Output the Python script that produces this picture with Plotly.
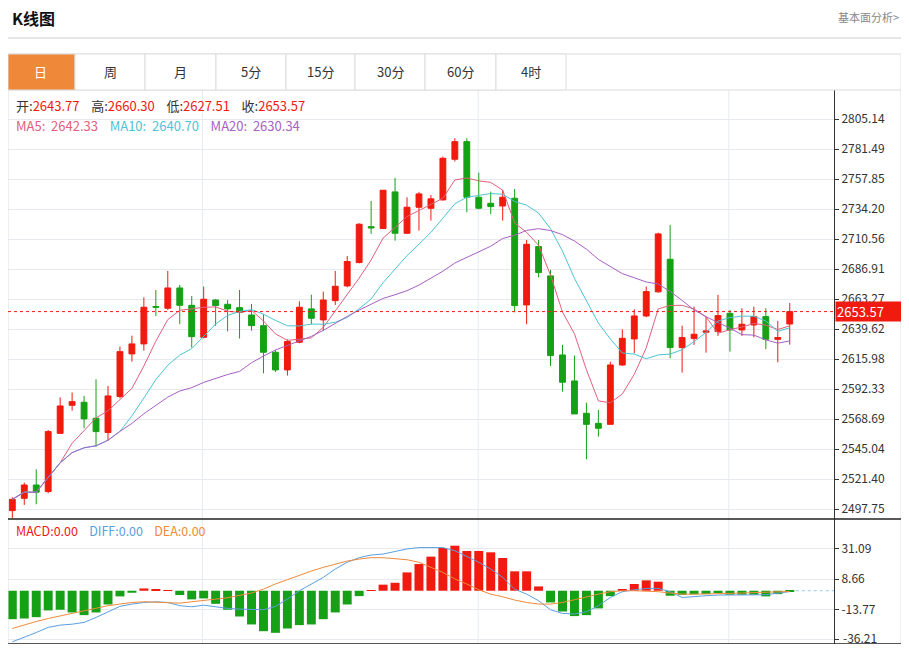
import pandas as pd
import plotly.graph_objects as go

# daily candles
opens = [2496.7, 2506.4, 2516.9, 2511.7, 2557.6, 2579.7, 2582.1, 2569.5, 2558.2, 2586.6,
         2620.2, 2628.1, 2657.5, 2656.2, 2672.2, 2658.5, 2633.3, 2662.7, 2659.3, 2656.7,
         2650.9, 2642.5, 2621.5, 2607.6, 2629.4, 2655.7, 2647.0, 2662.2, 2673.8, 2692.2,
         2720.5, 2719.0, 2747.9, 2715.3, 2735.8, 2735.0, 2741.6, 2773.6, 2787.5, 2743.7,
         2738.9, 2736.8, 2742.9, 2658.8, 2704.8, 2681.7, 2619.4, 2598.9, 2573.4, 2565.5,
         2564.7, 2611.5, 2632.0, 2650.1, 2669.1, 2694.8, 2625.2, 2632.3, 2637.3, 2637.8,
         2652.2, 2639.1, 2643.0, 2649.6, 2631.7, 2643.77]
closes = [2505.6, 2516.9, 2511.2, 2559.0, 2579.2, 2582.6, 2569.0, 2559.0, 2587.1, 2622.0,
          2628.1, 2657.0, 2657.0, 2672.2, 2658.5, 2633.8, 2663.3, 2658.3, 2655.7, 2652.8,
          2642.5, 2621.5, 2607.6, 2629.9, 2657.0, 2648.3, 2662.7, 2673.5, 2693.0, 2722.4,
          2719.5, 2749.2, 2715.3, 2735.8, 2746.3, 2742.4, 2774.4, 2787.5, 2743.7, 2735.0,
          2736.3, 2743.7, 2658.3, 2706.6, 2684.3, 2618.9, 2597.9, 2572.9, 2564.7, 2561.6,
          2611.5, 2632.5, 2650.1, 2669.3, 2714.8, 2625.2, 2633.1, 2635.7, 2638.3, 2650.4,
          2639.1, 2643.6, 2649.6, 2631.7, 2633.1, 2653.57]
highs = [2507.2, 2518.8, 2529.3, 2560.3, 2586.0, 2589.7, 2587.1, 2600.2, 2595.0, 2626.0,
         2634.6, 2664.8, 2670.6, 2685.6, 2674.6, 2665.9, 2673.3, 2663.3, 2662.7, 2670.6,
         2659.6, 2651.4, 2623.3, 2631.7, 2661.7, 2666.9, 2669.3, 2685.6, 2697.4, 2723.2,
         2740.8, 2749.4, 2758.9, 2743.7, 2747.9, 2745.5, 2775.7, 2790.2, 2790.2, 2763.1,
         2748.1, 2749.4, 2750.2, 2710.0, 2710.0, 2686.4, 2627.3, 2618.9, 2581.8, 2576.0,
         2614.1, 2639.6, 2655.4, 2673.3, 2715.8, 2721.9, 2642.5, 2657.5, 2649.6, 2666.7,
         2654.9, 2656.2, 2657.5, 2656.2, 2646.2, 2660.30]
lows = [2490.7, 2501.2, 2501.7, 2510.4, 2557.1, 2575.5, 2561.6, 2547.1, 2551.9, 2585.2,
        2614.1, 2622.8, 2650.1, 2654.9, 2643.6, 2625.2, 2632.5, 2642.3, 2638.0, 2632.3,
        2638.6, 2604.9, 2606.0, 2603.1, 2628.6, 2643.6, 2638.6, 2658.8, 2672.7, 2691.6,
        2714.8, 2719.0, 2709.5, 2714.8, 2717.4, 2725.3, 2741.0, 2771.8, 2731.8, 2734.2,
        2730.5, 2725.3, 2653.0, 2643.6, 2680.6, 2610.7, 2590.5, 2572.9, 2537.2, 2555.0,
        2564.7, 2610.7, 2620.7, 2649.1, 2668.5, 2616.8, 2605.5, 2627.3, 2621.2, 2634.4,
        2622.0, 2634.4, 2633.3, 2623.9, 2613.6, 2627.51]

# MACD panel
macd_hist = [-21.1, -20.6, -19.6, -14.6, -14.1, -16.1, -18.1, -16.1, -10.2, -4.2,
             -1.5, 1.7, 1.2, 0.5, -3.2, -6.4, -5.7, -9.7, -14.1, -19.1,
             -25.0, -30.0, -31.2, -28.0, -25.5, -25.0, -21.1, -16.1, -10.2, -4.0,
             0.1, 4.5, 5.9, 13.6, 19.8, 25.3, 31.7, 33.4, 29.5, 29.5,
             28.5, 24.3, 14.4, 14.4, 3.2, -8.7, -15.4, -18.8, -18.1, -13.1,
             -4.0, 1.2, 5.0, 7.7, 6.7, -3.7, -3.0, -2.7, -2.5, -1.7,
             -3.0, -3.0, -3.0, -4.2, -2.5, -0.3]
diff = [-37.9, -34.7, -31.0, -27.2, -25.5, -24.8, -23.5, -19.8, -15.6, -11.6,
        -9.9, -8.7, -8.2, -8.7, -11.1, -11.9, -10.7, -11.9, -13.1, -13.6,
        -13.6, -14.1, -11.6, -6.2, 0.0, 5.0, 9.9, 16.1, 21.1, 24.5,
        26.5, 27.2, 29.2, 31.0, 32.0, 32.2, 32.0, 29.7, 25.5, 21.1,
        16.1, 9.9, 1.2, -2.5, -7.4, -14.1, -16.8, -17.3, -15.6, -11.1,
        -5.0, -0.7, 0.7, 1.7, 1.7, -0.7, -5.0, -4.2, -3.7, -3.2,
        -3.2, -3.0, -3.0, -3.0, -1.7, -0.7]
dea = [-28.0, -25.3, -22.8, -20.6, -18.6, -17.1, -15.1, -13.1, -11.1, -9.9,
       -8.7, -8.2, -8.4, -8.9, -9.2, -8.2, -7.4, -6.2, -5.2, -3.7,
       -1.7, 1.2, 5.0, 8.2, 11.6, 14.6, 17.3, 19.8, 22.0, 23.5,
       24.5, 24.5, 24.0, 23.0, 21.1, 17.3, 13.6, 8.7, 5.0, 0.7,
       -2.5, -4.5, -6.9, -8.7, -9.9, -9.9, -8.7, -6.7, -4.5, -2.5,
       -0.7, 0.0, 0.0, -0.2, -0.7, -1.7, -2.5, -2.5, -2.5, -2.2,
       -2.0, -1.7, -1.5, -1.2, -0.7, -0.5]

# values shown in the legend line
ma_labels = {"MA5": "2642.33", "MA10": "2640.70", "MA20": "2630.34"}

price_ticks = [2497.75, 2521.40, 2545.04, 2568.69, 2592.33, 2615.98, 2639.62,
               2663.27, 2686.91, 2710.56, 2734.20, 2757.85, 2781.49, 2805.14]
macd_ticks = [-36.21, -13.77, 8.66, 31.09]
tabs = ["日", "周", "月", "5分", "15分", "30分", "60分", "4时"]

RED = "#f01a0e"
GREEN = "#16a016"
FONT = "Noto Sans CJK SC"
C_MA = {"MA5": "#e0607e", "MA10": "#4cc4d4", "MA20": "#a860c4"}

x = list(range(len(closes)))
s = pd.Series(closes)
mas = {"MA5": s.rolling(5, min_periods=1).mean(),
       "MA10": s.rolling(10, min_periods=1).mean(),
       "MA20": s.rolling(20, min_periods=1).mean()}

# page body has an 8px margin, so the figure is 16px smaller
OFF = 8
W, H = 909 - 2 * OFF, 652 - 2 * OFF


def py(p):
    return min(1, max(0, 1 - (p - OFF) / H))


def px(p):
    return min(1, max(0, (p - OFF) / W))


fig = go.Figure()
fig.add_trace(go.Candlestick(
    x=x, open=opens, high=highs, low=lows, close=closes,
    increasing=dict(line=dict(color=RED, width=1), fillcolor=RED),
    decreasing=dict(line=dict(color=GREEN, width=1), fillcolor=GREEN),
    whiskerwidth=0, hoverinfo="skip"))
for name, ma in mas.items():
    fig.add_trace(go.Scatter(x=x, y=ma, mode="lines",
                             line=dict(color=C_MA[name], width=1), hoverinfo="skip"))

fig.add_trace(go.Bar(x=x, y=macd_hist, yaxis="y2", xaxis="x2",
                     marker=dict(color=[RED if v > 0 else GREEN for v in macd_hist],
                                 line=dict(width=0)),
                     width=0.75, hoverinfo="skip"))
fig.add_trace(go.Scatter(x=x, y=diff, xaxis="x2", yaxis="y2", mode="lines",
                         line=dict(color="#5aa0e0", width=1), hoverinfo="skip"))
fig.add_trace(go.Scatter(x=x, y=dea, xaxis="x2", yaxis="y2", mode="lines",
                         line=dict(color="#f08a3a", width=1), hoverinfo="skip"))

xr = [-0.36, 68.7]
axfont = dict(family=FONT, size=12, color="#333")
fig.update_layout(
    width=W, height=H, margin=dict(l=0, r=0, t=0, b=0),
    paper_bgcolor="white", plot_bgcolor="white", showlegend=False,
    xaxis=dict(domain=[px(5), px(834)], range=xr, showticklabels=False,
               showgrid=False, zeroline=False, rangeslider=dict(visible=False),
               fixedrange=True),
    yaxis=dict(domain=[py(519), py(90)], range=[2490.1, 2828.2], side="right",
               tickvals=price_ticks, ticktext=[f"{v:.2f}" for v in price_ticks],
               ticks="outside", ticklen=4, tickcolor="#333", showline=True,
               linecolor="#333", gridcolor="#e6eaee", zeroline=False,
               tickfont=axfont),
    xaxis2=dict(domain=[px(5), px(834)], range=xr, anchor="y2",
                showticklabels=False, showgrid=False, zeroline=False),
    # lowest tick label would be clipped by the page edge, so it is an annotation
    yaxis2=dict(domain=[py(649), py(519)], range=[-39.5, 53.2], side="right",
                anchor="x2", tickvals=macd_ticks,
                ticktext=[""] + [f"{v:.2f}" for v in macd_ticks[1:]],
                ticks="outside", ticklen=4, tickcolor="#333", showline=True,
                linecolor="#333", gridcolor="#e6eaee", zeroline=False,
                tickfont=axfont),
)
fig.add_annotation(xref="paper", yref="y2", x=px(841), y=macd_ticks[0],
                   xanchor="left", yanchor="middle", yshift=2,
                   text=f"{macd_ticks[0]:.2f}", showarrow=False, font=axfont)

shapes = []
# vertical grid lines (month splits)
for v in [15.9, 38.95, 59.9]:
    for xa, ya in [("x", "y domain"), ("x2", "y2 domain")]:
        shapes.append(dict(type="line", xref=xa, yref=ya, x0=v, x1=v, y0=0, y1=1,
                           line=dict(color="#e6eaee", width=1), layer="below"))
# header rule and frames
shapes.append(dict(type="line", xref="paper", yref="paper", x0=px(5), x1=px(905),
                   y0=py(38), y1=py(38), line=dict(color="#cccccc", width=1)))
shapes.append(dict(type="rect", xref="paper", yref="paper", x0=px(5), x1=px(905),
                   y0=py(649), y1=py(54), line=dict(color="#dddddd", width=1)))
shapes.append(dict(type="line", xref="paper", yref="paper", x0=px(5), x1=px(905),
                   y0=py(90), y1=py(90), line=dict(color="#dddddd", width=1)))
for yy in [519, 649]:
    shapes.append(dict(type="line", xref="paper", yref="paper", x0=px(5), x1=px(905),
                       y0=py(yy), y1=py(yy), line=dict(color="#222", width=1.5)))
# tabs
tab_edges = [5, 75, 145, 216, 286, 355, 425, 496, 566]
for i, t in enumerate(tabs):
    x0, x1 = tab_edges[i], tab_edges[i + 1]
    shapes.append(dict(type="rect", xref="paper", yref="paper", x0=px(x0), x1=px(x1),
                       y0=py(90), y1=py(54),
                       fillcolor="#f0883a" if i == 0 else "white",
                       line=dict(color="#dddddd", width=1)))
    fig.add_annotation(xref="paper", yref="paper", x=px((x0 + x1) / 2), y=py(72),
                       xanchor="center", yanchor="middle", text=t, showarrow=False,
                       font=dict(family=FONT, size=13,
                                 color="white" if i == 0 else "#333"))
# last price line
shapes.append(dict(type="line", xref="x", yref="y", x0=xr[0], x1=xr[1],
                   y0=closes[-1], y1=closes[-1],
                   line=dict(color=RED, width=1, dash="dot")))
shapes.append(dict(type="line", xref="x2", yref="y2", x0=65.5, x1=xr[1], y0=0, y1=0,
                   line=dict(color="#9cc8ec", width=1, dash="dot")))
fig.update_layout(shapes=shapes)

fig.add_annotation(xref="paper", yref="y", x=px(835), y=closes[-1], xanchor="left",
                   yanchor="middle", text=f"{closes[-1]:.2f}", showarrow=False,
                   bgcolor=RED, width=64, height=17, align="left",
                   font=dict(family=FONT, size=13, color="white"))

fig.add_annotation(xref="paper", yref="paper", x=px(10), y=py(18), xanchor="left",
                   yanchor="middle", text="<b>K线图</b>", showarrow=False,
                   font=dict(family=FONT, size=16, color="#111"))
fig.add_annotation(xref="paper", yref="paper", x=px(905), y=py(17), xanchor="right",
                   yanchor="middle", text="基本面分析>", showarrow=False,
                   font=dict(family=FONT, size=11, color="#888"))


def sp(c, t):
    return f"<span style='color:{c}'>{t}</span>"


GAP = "    "
ohlc_txt = (sp("#333", "开:") + sp(RED, f"{opens[-1]:.2f}") + GAP
            + sp("#333", "高:") + sp(RED, f"{highs[-1]:.2f}") + GAP
            + sp("#333", "低:") + sp(RED, f"{lows[-1]:.2f}") + GAP
            + sp("#333", "收:") + sp(RED, f"{closes[-1]:.2f}"))
ma_txt = GAP.join(sp(C_MA[k], f"{k}:  {v}") for k, v in ma_labels.items())
macd_txt = (sp(RED, "MACD:0.00") + GAP + sp("#5aa0e0", "DIFF:0.00") + GAP
            + sp("#f08a3a", "DEA:0.00"))
for txt, yy, fs in [(ohlc_txt, 106, 13), (ma_txt, 125, 13), (macd_txt, 530, 12.5)]:
    fig.add_annotation(xref="paper", yref="paper", x=px(14), y=py(yy), xanchor="left",
                       yanchor="middle", text=txt, showarrow=False,
                       font=dict(family=FONT, size=fs))

fig.write_html("out.html")
